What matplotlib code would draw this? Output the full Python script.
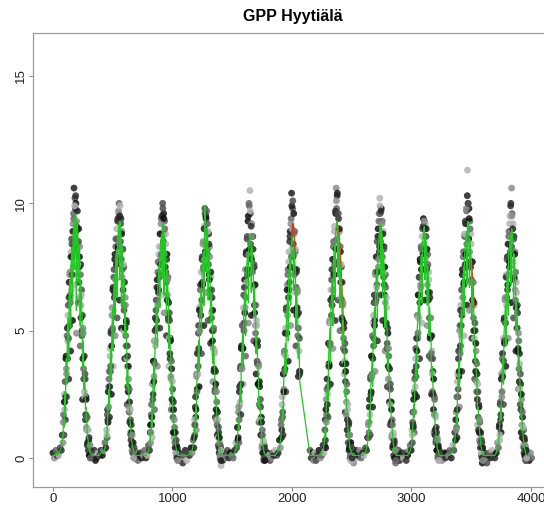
import numpy as np
import matplotlib
matplotlib.use("Agg")
import matplotlib.pyplot as plt

nan = np.nan

# sampling days within each year (same for all years)
doy = [0, 12, 24, 36, 48, 60, 70, 78,
       84, 88, 92, 96, 100, 104, 108, 112, 116, 120,
       124, 128, 132, 136, 140, 144, 148, 152, 156, 160,
       164, 168, 172, 176, 180, 184, 188, 192, 196, 200,
       204, 208, 212, 216, 220, 224, 228, 232, 236, 240,
       244, 248, 252, 256, 260, 264, 268, 272, 276, 280,
       284, 288, 292, 296, 300, 304, 308, 312, 316,
       326, 336, 346, 356]

# extra measurement days in the growing season
doy_mid = [86, 90, 94, 98, 102, 106, 110, 114, 118, 122,
           126, 130, 134, 138, 142, 146, 150, 154, 158, 162,
           166, 170, 174, 178, 182, 186, 190, 194, 198, 202,
           206, 210, 214, 218, 222, 226, 230, 234, 238, 242,
           246, 250, 254, 258, 262, 266, 270, 274, 278, 282,
           286, 290, 294, 298, 302, 306, 310, 314]

# modelled GPP (green line), one list per year
model_y01 = [0.1, 0.1, 0.2, 0.1, 0.2, 0.3, 0.4, 0.7,
             0.9, 1.4, 1.2, 2.1, 2.6, 1.8, 3.4, 3.9, 2.9, 4.6,
             5.1, 5.5, 3.8, 6.3, 6.8, 7.0, 5.1, 7.7, 8.0, 8.3,
             6.2, 8.7, 9.0, 9.2, 7.4, 9.4, 9.6, 9.5, 5.8, 9.3,
             9.1, 8.9, 6.9, 8.4, 8.1, 7.8, 5.2, 7.0, 6.5, 6.0,
             5.5, 3.6, 4.6, 4.1, 2.7, 3.2, 2.8, 1.9, 2.0, 1.6,
             1.3, 0.8, 0.8, 0.6, 0.5, 0.3, 0.3, 0.2, 0.2,
             0.1, 0.1, 0.1, 0.1]
model_y02 = [0.1, 0.1, 0.1, 0.2, 0.2, 0.2, 0.4, 0.6,
             0.8, 1.1, 1.5, 1.8, 2.3, 2.7, 2.0, 3.5, 3.9, 4.3,
             3.1, 5.1, 5.5, 5.9, 4.2, 6.6, 6.9, 7.2, 5.6, 7.8,
             8.0, 8.2, 6.3, 8.6, 8.8, 9.0, 9.2, 7.0, 9.3, 9.0,
             8.8, 6.0, 8.3, 8.0, 7.7, 5.9, 7.0, 6.6, 4.8, 5.8,
             5.3, 4.9, 4.4, 2.8, 3.5, 3.1, 2.6, 2.3, 1.8, 1.5,
             1.2, 1.0, 0.7, 0.6, 0.4, 0.4, 0.3, 0.2, 0.2,
             0.1, 0.1, 0.1, 0.1]
model_y03 = [0.1, 0.1, 0.1, 0.1, 0.1, 0.2, 0.3, 0.5,
             0.7, 1.0, 1.3, 1.7, 1.2, 2.4, 2.9, 3.3, 3.7, 2.6,
             4.5, 4.9, 5.3, 5.7, 6.1, 4.4, 6.8, 7.1, 7.4, 7.7,
             5.9, 8.2, 8.4, 8.6, 8.8, 7.1, 9.1, 9.2, 9.0, 6.4,
             8.7, 8.5, 8.2, 7.9, 5.6, 7.4, 7.0, 6.6, 6.1, 4.3,
             5.2, 4.7, 4.2, 3.8, 2.5, 3.0, 2.6, 2.2, 1.4, 1.5,
             1.2, 0.9, 0.7, 0.5, 0.4, 0.3, 0.3, 0.2, 0.1,
             0.1, 0.1, 0.1, 0.1]
model_y04 = [0.1, 0.1, 0.1, 0.1, 0.2, 0.2, 0.3, 0.5,
             0.7, 0.9, 1.2, 1.6, 2.0, 1.5, 2.8, 3.2, 3.7, 4.1,
             4.6, 3.4, 5.4, 5.8, 6.2, 6.6, 4.9, 7.2, 7.5, 7.8,
             8.1, 6.0, 8.5, 9.9, 8.8, 8.9, 7.3, 9.0, 8.8, 8.6,
             6.2, 8.2, 7.9, 7.6, 7.2, 5.3, 6.5, 6.1, 5.7, 5.2,
             3.7, 4.4, 4.0, 3.5, 3.1, 2.2, 2.4, 2.0, 1.7, 1.4,
             1.1, 0.9, 0.7, 0.5, 0.4, 0.3, 0.2, 0.2, 0.1,
             0.1, 0.1, 0.1, 0.1]
model_y05 = [0.1, 0.1, 0.1, 0.1, 0.1, 0.2, 0.3, 0.5,
             0.8, 1.1, 1.4, 1.1, 2.1, 2.5, 2.9, 2.2, 3.7, 4.1,
             4.5, 4.9, 3.6, 5.7, 6.0, 6.3, 6.6, 4.8, 7.2, 7.5,
             7.7, 7.9, 8.1, 6.1, 8.4, 8.6, 8.7, 8.8, 8.6, 6.5,
             8.3, 8.1, 7.8, 7.5, 5.5, 6.8, 6.4, 6.0, 5.6, 4.1,
             4.8, 4.4, 3.9, 3.5, 3.1, 2.0, 2.4, 2.0, 1.7, 1.4,
             1.1, 0.9, 0.7, 0.5, 0.4, 0.3, 0.2, 0.2, 0.1,
             0.1, 0.1, 0.1, 0.1]
model_y06 = [0.1, 0.1, 0.1, 0.1, 0.2, 0.3, 0.4, 0.6,
             0.9, 1.2, 1.6, 2.0, 1.5, 2.8, 3.2, 3.6, 4.1, 4.5,
             3.3, 5.3, 5.7, 6.1, 6.5, 4.6, 7.1, 7.4, 7.7, 7.9,
             6.0, 8.3, 8.5, 8.7, 8.6, 8.5, 6.6, 8.2, 7.9, 7.6,
             7.3, 5.2, 6.7, 6.3, 5.9, 5.4, 3.9, 4.5, 4.0, 3.0,
             nan, nan, nan, nan, nan, nan, nan, nan, nan, nan,
             nan, nan, nan, nan, nan, nan, nan, nan, nan,
             0.1, 0.1, 0.1, 0.1]
model_y07 = [0.1, 0.1, 0.1, 0.1, 0.1, 0.2, 0.3, 0.5,
             0.8, 1.1, 0.8, 1.8, 2.2, 2.6, 3.0, 2.3, 3.9, 4.3,
             4.7, 5.1, 3.7, 5.9, 6.3, 6.7, 7.0, 5.2, 7.6, 7.9,
             8.2, 8.4, 6.3, 8.8, 9.0, 9.2, 9.3, 9.1, 7.1, 8.7,
             8.4, 8.1, 5.9, 7.5, 7.1, 6.7, 6.3, 4.5, 5.4, 5.0,
             4.5, 4.1, 3.6, 2.4, 2.8, 2.4, 2.0, 1.7, 1.4, 1.1,
             0.9, 0.7, 0.5, 0.4, 0.3, 0.3, 0.2, 0.2, 0.1,
             0.1, 0.1, 0.1, 0.1]
model_y08 = [0.1, 0.1, 0.1, 0.1, 0.2, 0.2, 0.4, 0.6,
             0.9, 1.2, 1.5, 1.9, 1.4, 2.7, 3.1, 3.5, 3.9, 2.8,
             4.7, 5.1, 5.5, 5.9, 4.3, 6.6, 6.9, 7.2, 7.5, 5.5,
             8.0, 8.3, 8.5, 8.8, 9.0, 9.2, 7.2, 9.1, 8.9, 8.7,
             6.3, 8.2, 7.9, 7.6, 7.2, 5.1, 6.4, 6.0, 5.5, 5.1,
             3.5, 4.2, 3.8, 3.3, 2.9, 2.0, 2.3, 1.9, 1.6, 1.3,
             1.1, 0.8, 0.6, 0.5, 0.4, 0.3, 0.2, 0.2, 0.1,
             0.1, 0.1, 0.1, 0.1]
model_y09 = [0.1, 0.1, 0.1, 0.1, 0.1, 0.2, 0.3, 0.5,
             0.7, 1.0, 1.3, 1.7, 2.1, 1.6, 2.9, 3.3, 3.8, 4.2,
             3.1, 5.0, 5.4, 5.8, 6.2, 6.6, 4.7, 7.2, 7.5, 7.8,
             8.0, 6.1, 8.4, 8.6, 8.8, 9.0, 9.1, 7.0, 8.8, 8.6,
             8.4, 8.1, 6.0, 7.5, 7.1, 6.7, 4.8, 5.9, 5.4, 5.0,
             4.5, 3.2, 3.6, 3.2, 2.8, 2.4, 1.6, 1.8, 1.5, 1.2,
             1.0, 0.8, 0.6, 0.4, 0.3, 0.3, 0.2, 0.1, 0.1,
             0.1, 0.1, 0.1, 0.1]
model_y10 = [0.1, 0.1, 0.1, 0.1, 0.2, 0.3, 0.5, 0.7,
             1.0, 1.3, 1.7, 1.3, 2.5, 2.9, 3.3, 3.8, 2.7, 4.6,
             5.0, 5.4, 5.8, 4.1, 6.6, 6.9, 7.2, 7.5, 5.6, 8.0,
             8.3, 8.5, 8.7, 8.9, 6.8, 9.2, 9.3, 9.2, 9.0, 6.7,
             8.6, 8.3, 8.0, 7.7, 5.5, 7.0, 6.6, 6.2, 5.7, 5.3,
             3.8, 4.4, 4.0, 3.5, 3.1, 2.7, 1.9, 2.0, 1.7, 1.4,
             1.1, 0.9, 0.7, 0.5, 0.4, 0.3, 0.2, 0.2, 0.1,
             0.1, 0.1, 0.1, 0.1]
model_y11 = [0.1, 0.1, 0.1, 0.1, 0.1, 0.2, 0.4, 0.6,
             0.9, 1.2, 1.6, 2.0, 1.5, 2.8, 3.2, 3.6, 4.0, 2.9,
             4.8, 5.2, 5.6, 6.0, 4.4, 6.6, 6.9, 7.2, 7.5, 5.6,
             8.0, 8.2, 8.4, 8.6, 8.8, 6.8, 9.0, 8.9, 8.7, 8.5,
             6.2, 8.0, 7.7, 7.4, 7.0, 5.0, 6.2, 5.8, 5.3, 4.9,
             3.4, 4.0, 3.6, 3.1, 2.7, 2.3, 1.6, 1.7, 1.4, 1.1,
             0.9, 0.7, 0.5, 0.4, 0.3, 0.2, 0.2, 0.1, 0.1,
             0.1, 0.1, 0.1, 0.1]

# measured GPP (points) on the doy grid, one list per year
obs_y01 = [0.2, 0.0, 0.3, 0.1, 0.1, 0.4, 0.3, 0.9,
           0.6, 1.7, 0.9, 2.5, 2.2, 1.5, 3.9, 3.5, 2.4, 5.1,
           4.6, 6.0, 3.1, 6.9, 7.2, 6.4, 4.2, 8.1, 8.6, 7.9,
           5.4, 9.2, 9.6, 10.6, 6.8, 10.2, 9.8, 10.0, 4.9, 9.1,
           9.7, 8.4, 6.1, 9.0, 7.5, 8.3, 4.4, 7.6, 6.0, 6.6,
           5.0, 2.3, 5.1, 3.5, 3.1, 2.6, 3.3, 1.5, 2.4, 1.2,
           1.6, 0.5, 1.1, 0.3, 0.7, 0.1, 0.5, 0.0, 0.3,
           0.2, 0.0, 0.3, -0.1]
obs_y02 = [0.0, 0.2, 0.1, 0.3, 0.1, 0.3, 0.6, 0.4,
           1.1, 0.8, 1.9, 1.4, 2.8, 3.1, 1.6, 4.0, 3.4, 4.9,
           2.5, 5.6, 5.0, 6.6, 3.6, 7.1, 6.3, 7.8, 4.8, 8.3,
           8.6, 7.6, 5.5, 9.3, 8.3, 9.7, 10.0, 6.2, 9.9, 8.5,
           9.4, 5.1, 8.9, 7.4, 8.2, 5.0, 7.5, 6.0, 3.9, 6.3,
           4.8, 5.4, 3.9, 2.1, 4.0, 2.6, 3.1, 1.8, 2.2, 1.0,
           1.5, 0.7, 1.0, 0.3, 0.6, 0.2, 0.5, 0.0, 0.3,
           0.0, 0.2, -0.1, 0.1]
obs_y03 = [0.2, 0.0, 0.1, 0.3, 0.0, 0.1, 0.5, 0.3,
           1.0, 0.6, 1.7, 1.3, 0.8, 2.9, 2.5, 3.8, 3.2, 1.9,
           5.0, 4.4, 5.8, 5.1, 6.7, 3.6, 7.3, 6.5, 8.0, 7.2,
           5.1, 8.8, 7.9, 9.4, 8.3, 6.4, 10.0, 8.8, 9.6, 5.7,
           9.3, 8.0, 8.8, 7.3, 4.8, 8.0, 6.4, 7.1, 5.5, 3.6,
           5.7, 4.1, 4.7, 3.2, 1.9, 3.5, 2.1, 2.7, 1.0, 1.9,
           0.8, 1.2, 0.4, 0.7, 0.2, 0.5, 0.1, 0.3, -0.1,
           0.2, 0.0, 0.1, -0.2]
obs_y04 = [0.1, 0.3, -0.1, 0.2, 0.1, 0.4, 0.2, 0.7,
           0.4, 1.3, 0.9, 2.0, 1.6, 1.1, 3.3, 2.7, 4.2, 3.6,
           5.2, 2.8, 5.9, 5.2, 6.8, 6.0, 4.1, 7.8, 6.9, 8.4,
           7.5, 5.2, 9.1, 9.8, 8.1, 9.5, 6.5, 9.7, 8.2, 9.2,
           5.4, 8.8, 7.2, 8.3, 6.6, 4.5, 7.1, 5.5, 6.3, 4.6,
           3.0, 5.0, 3.4, 4.1, 2.6, 1.6, 2.9, 1.5, 2.2, 0.9,
           1.5, 0.5, 1.0, 0.2, 0.6, 0.0, 0.4, -0.3, 0.2,
           -0.1, 0.2, 0.0, 0.1]
obs_y05 = [0.3, 0.0, 0.2, 0.1, 0.0, 0.3, 0.6, 0.4,
           1.2, 0.7, 1.8, 0.6, 2.6, 2.1, 3.5, 1.7, 4.3, 3.6,
           5.2, 4.3, 2.9, 6.4, 5.3, 7.0, 5.9, 4.0, 8.0, 6.8,
           8.6, 7.2, 9.3, 5.3, 10.0, 8.1, 10.5, 9.6, 7.9, 5.6,
           9.2, 7.4, 8.7, 6.7, 4.6, 7.5, 5.7, 6.8, 4.9, 3.3,
           5.4, 3.8, 4.6, 2.9, 3.7, 1.4, 3.0, 1.5, 2.3, 0.9,
           1.6, 0.4, 1.1, 0.2, 0.7, -0.1, 0.5, 0.0, 0.3,
           0.0, 0.2, 0.1, -0.1]
obs_y06 = [0.0, 0.2, 0.1, 0.3, 0.1, 0.2, 0.7, 0.4,
           1.3, 0.8, 2.1, 1.6, 0.9, 3.3, 2.7, 4.2, 3.5, 5.1,
           2.6, 5.9, 4.9, 6.8, 7.2, 3.8, 7.7, 6.6, 8.5, 8.9,
           5.2, 9.4, 10.4, 9.0, 9.8, 7.9, 5.8, 8.8, 7.2, 8.1,
           6.5, 4.4, 7.3, 5.6, 6.5, 4.8, 3.2, 5.1, 3.4, 3.3,
           nan, nan, nan, nan, nan, nan, nan, nan, nan, nan,
           nan, nan, nan, nan, nan, nan, nan, nan, nan,
           0.3, 0.0, 0.2, -0.1]
obs_y07 = [0.2, -0.1, 0.1, 0.3, 0.0, 0.1, 0.5, 0.2,
           0.5, 1.5, 0.4, 2.3, 1.7, 3.1, 2.5, 1.6, 4.5, 3.7,
           5.3, 4.4, 2.9, 6.6, 5.6, 7.4, 6.3, 4.3, 8.3, 7.2,
           8.9, 7.6, 5.4, 9.6, 10.6, 9.8, 10.3, 8.4, 6.2, 9.4,
           7.6, 8.9, 5.0, 8.1, 6.3, 7.5, 5.5, 3.7, 6.0, 4.3,
           5.1, 3.3, 4.2, 1.8, 3.4, 1.7, 2.6, 1.1, 1.9, 0.6,
           1.3, 0.3, 0.9, 0.0, 0.6, -0.1, 0.4, 0.0, 0.3,
           -0.2, 0.1, 0.3, 0.0]
obs_y08 = [0.1, 0.3, 0.0, 0.2, 0.1, 0.4, 0.3, 0.8,
           1.3, 0.8, 2.0, 1.4, 0.9, 3.2, 2.6, 4.0, 3.3, 2.0,
           5.3, 4.4, 6.1, 5.2, 3.4, 7.3, 6.2, 7.9, 6.8, 4.6,
           8.7, 7.5, 9.3, 8.1, 10.2, 9.6, 6.4, 9.8, 8.2, 9.3,
           5.4, 8.9, 7.1, 8.3, 6.4, 4.2, 7.2, 5.2, 6.3, 4.3,
           2.8, 4.9, 3.1, 4.0, 2.2, 1.3, 2.9, 1.3, 2.2, 0.8,
           1.5, 0.4, 1.0, 0.1, 0.7, 0.0, 0.4, -0.2, 0.2,
           0.0, 0.3, -0.1, 0.1]
obs_y09 = [0.2, 0.0, 0.2, -0.1, 0.1, 0.3, 0.5, 0.3,
           1.1, 0.6, 1.8, 1.2, 2.6, 1.0, 3.4, 2.8, 4.3, 3.6,
           2.4, 5.6, 4.7, 6.4, 5.5, 7.1, 3.9, 7.8, 6.8, 8.3,
           7.4, 5.3, 9.0, 8.0, 9.4, 8.4, 9.3, 6.2, 9.2, 7.9,
           9.0, 7.5, 5.2, 8.0, 6.5, 7.3, 4.0, 6.5, 4.7, 5.5,
           3.9, 2.5, 4.2, 2.6, 3.4, 1.9, 1.0, 2.4, 0.9, 1.7,
           0.6, 1.2, 0.3, 0.8, 0.0, 0.5, -0.1, 0.3, 0.0,
           0.2, -0.1, 0.1, 0.2]
obs_y10 = [0.0, 0.2, 0.1, 0.3, 0.0, 0.5, 0.3, 1.0,
           0.7, 1.8, 1.2, 0.8, 3.0, 2.4, 3.9, 3.2, 2.0, 5.2,
           4.4, 6.0, 5.2, 3.4, 7.2, 6.3, 7.9, 6.8, 4.8, 8.7,
           7.6, 9.2, 8.1, 9.7, 6.0, 11.3, 10.0, 8.6, 9.8, 5.8,
           9.3, 7.7, 8.8, 7.0, 4.7, 7.7, 6.0, 6.9, 5.0, 6.0,
           3.1, 5.0, 3.4, 4.2, 2.6, 3.3, 1.3, 2.6, 1.1, 2.0,
           0.7, 1.4, 0.4, 0.9, 0.1, 0.6, -0.2, 0.4, 0.0,
           0.2, 0.0, -0.2, 0.1]
obs_y11 = [0.2, 0.0, 0.3, 0.1, 0.0, 0.2, 0.6, 0.4,
           1.2, 0.7, 2.1, 1.5, 1.0, 3.3, 2.6, 4.1, 3.4, 2.1,
           5.4, 4.5, 6.2, 5.3, 3.6, 7.2, 6.3, 7.9, 6.8, 4.7,
           8.7, 7.5, 9.2, 8.0, 9.9, 6.1, 10.6, 9.6, 8.1, 9.2,
           5.5, 8.7, 7.0, 8.1, 6.2, 4.2, 6.9, 5.1, 6.0, 4.2,
           2.7, 4.6, 3.0, 3.7, 2.1, 2.9, 1.0, 2.3, 0.8, 1.6,
           0.5, 1.1, 0.2, 0.7, 0.0, 0.4, -0.1, 0.3, 0.0,
           0.1, -0.1, 0.2, 0.0]

# measured GPP on the doy_mid days, one list per year
mid_y01 = [1.4, 0.9, 2.2, 1.9, 3.0, 2.4, 4.0, 3.3, 4.8, 3.9,
           5.6, 4.7, 6.3, 5.2, 7.3, 6.1, 7.9, 6.6, 8.4, 7.2,
           8.9, 7.5, 9.4, 8.3, 9.9, 8.6, 10.3, 8.9, 9.3, 8.1,
           9.0, 7.6, 8.5, 6.9, 7.9, 6.3, 7.2, 5.5, 6.4, 4.8,
           5.6, 3.9, 4.9, 3.1, 4.0, 2.4, 3.1, 1.7, 2.3, 1.1,
           1.6, 0.6, 1.1, 0.3, 0.8, 0.1, 0.5, 0.0]
mid_y02 = [0.9, 1.7, 1.5, 2.6, 2.0, 3.4, 2.8, 4.3, 3.6, 5.0,
           4.4, 5.9, 5.1, 6.7, 5.8, 7.4, 6.5, 8.0, 7.0, 8.6,
           7.6, 9.0, 7.9, 9.4, 8.2, 9.6, 8.4, 9.5, 8.1, 9.2,
           7.8, 8.8, 7.1, 8.2, 6.6, 7.6, 5.8, 6.9, 5.1, 6.0,
           4.4, 5.3, 3.6, 4.4, 2.8, 3.6, 2.0, 2.7, 1.4, 1.9,
           0.9, 1.3, 0.5, 0.9, 0.2, 0.6, 0.0, 0.4]
mid_y03 = [1.3, 1.0, 2.1, 1.6, 2.9, 2.3, 3.8, 3.0, 4.6, 3.7,
           5.5, 4.6, 6.2, 5.4, 7.0, 6.0, 7.7, 6.6, 8.3, 7.1,
           8.8, 7.6, 9.2, 8.0, 9.5, 8.3, 9.8, 8.5, 9.4, 8.0,
           9.0, 7.5, 8.4, 6.9, 7.8, 6.2, 7.0, 5.4, 6.1, 4.7,
           5.4, 3.9, 4.6, 3.1, 3.8, 2.3, 3.0, 1.6, 2.2, 1.0,
           1.5, 0.6, 1.0, 0.2, 0.7, 0.0, 0.4, -0.1]
mid_y04 = [0.8, 1.5, 1.3, 2.4, 1.9, 3.2, 2.6, 4.1, 3.3, 4.9,
           4.3, 5.8, 5.0, 6.6, 5.6, 7.3, 6.2, 7.9, 6.8, 8.5,
           7.4, 9.0, 7.8, 9.6, 8.1, 9.4, 8.3, 9.2, 8.0, 8.9,
           7.6, 8.4, 7.0, 7.9, 6.4, 7.3, 5.7, 6.6, 5.0, 5.8,
           4.3, 5.1, 3.5, 4.2, 2.7, 3.4, 1.9, 2.6, 1.3, 1.8,
           0.8, 1.2, 0.4, 0.8, 0.1, 0.5, -0.1, 0.3]
mid_y05 = [1.2, 0.8, 2.0, 1.5, 2.8, 2.2, 3.6, 2.9, 4.4, 3.5,
           5.2, 4.3, 5.9, 5.0, 6.7, 5.7, 7.4, 6.3, 8.1, 6.9,
           8.7, 7.4, 9.5, 8.0, 9.9, 8.2, 9.7, 8.4, 9.1, 7.8,
           8.7, 7.3, 8.2, 6.7, 7.6, 6.0, 6.8, 5.2, 6.0, 4.5,
           5.2, 3.7, 4.4, 2.9, 3.6, 2.1, 2.8, 1.5, 2.0, 0.9,
           1.4, 0.5, 0.9, 0.2, 0.6, 0.0, 0.4, -0.1]
mid_y06 = [1.5, 1.1, 2.4, 1.8, 3.3, 2.6, 4.1, 3.4, 4.9, 4.0,
           5.8, 4.9, 6.6, 5.6, 7.4, 6.3, 8.1, 6.9, 8.7, 7.5,
           9.2, 7.9, 9.9, 8.3, 10.1, 8.4, 9.6, 8.0, 8.9, 7.4,
           8.2, 6.7, 7.4, 5.9, 6.6, 5.1, 5.7, 4.2, 4.7, 3.4,
           nan, nan, nan, nan, nan, nan, nan, nan, nan, nan,
           nan, nan, nan, nan, nan, nan, nan, nan]
mid_y07 = [1.1, 0.7, 1.9, 1.4, 2.7, 2.1, 3.6, 2.8, 4.5, 3.6,
           5.4, 4.5, 6.2, 5.3, 7.0, 6.0, 7.8, 6.6, 8.5, 7.2,
           9.1, 7.7, 9.7, 8.2, 10.1, 8.6, 10.4, 8.8, 9.6, 8.2,
           9.0, 7.6, 8.3, 6.9, 7.6, 6.2, 6.9, 5.4, 6.1, 4.7,
           5.3, 3.8, 4.5, 3.0, 3.7, 2.2, 2.9, 1.5, 2.1, 0.9,
           1.4, 0.4, 0.9, 0.1, 0.6, -0.1, 0.4, 0.0]
mid_y08 = [1.4, 1.0, 2.3, 1.7, 3.1, 2.5, 4.0, 3.2, 4.8, 3.9,
           5.6, 4.7, 6.4, 5.4, 7.2, 6.1, 7.9, 6.7, 8.5, 7.3,
           9.0, 7.8, 9.6, 8.3, 9.9, 8.5, 9.7, 8.3, 9.2, 7.9,
           8.8, 7.3, 8.2, 6.8, 7.5, 6.1, 6.7, 5.3, 5.9, 4.5,
           5.1, 3.6, 4.3, 2.8, 3.5, 2.1, 2.7, 1.4, 1.9, 0.9,
           1.3, 0.5, 0.9, 0.1, 0.6, 0.0, 0.3, -0.1]
mid_y09 = [0.9, 1.4, 1.3, 2.3, 1.8, 3.1, 2.5, 3.9, 3.2, 4.7,
           4.2, 5.6, 4.9, 6.4, 5.5, 7.1, 6.1, 7.7, 6.7, 8.2,
           7.4, 8.7, 7.8, 9.1, 8.0, 9.3, 8.2, 9.0, 7.8, 8.7,
           7.4, 8.2, 6.8, 7.6, 6.2, 7.0, 5.5, 6.3, 4.8, 5.5,
           4.1, 4.8, 3.3, 3.9, 2.5, 3.1, 1.7, 2.3, 1.1, 1.6,
           0.7, 1.0, 0.3, 0.7, 0.1, 0.4, -0.1, 0.2]
mid_y10 = [1.5, 1.1, 2.4, 1.9, 3.3, 2.7, 4.2, 3.4, 5.0, 4.1,
           5.8, 4.8, 6.6, 5.6, 7.4, 6.3, 8.1, 6.9, 8.8, 7.5,
           9.3, 8.0, 9.8, 8.4, 10.3, 8.7, 10.0, 8.6, 9.4, 8.1,
           9.0, 7.5, 8.4, 6.9, 7.7, 6.2, 6.9, 5.5, 6.1, 4.7,
           5.3, 3.8, 4.5, 3.0, 3.7, 2.3, 2.9, 1.6, 2.1, 1.0,
           1.5, 0.6, 1.0, 0.2, 0.7, 0.0, 0.4, -0.1]
mid_y11 = [1.3, 0.9, 2.2, 1.7, 3.1, 2.4, 3.9, 3.2, 4.7, 3.8,
           5.5, 4.6, 6.3, 5.3, 7.1, 6.0, 7.8, 6.6, 8.4, 7.2,
           8.9, 7.7, 9.5, 8.1, 10.0, 8.3, 9.5, 8.1, 9.0, 7.7,
           8.6, 7.1, 8.0, 6.6, 7.3, 5.9, 6.5, 5.1, 5.7, 4.3,
           4.9, 3.5, 4.1, 2.7, 3.3, 1.9, 2.5, 1.3, 1.8, 0.8,
           1.2, 0.4, 0.8, 0.1, 0.5, -0.1, 0.3, 0.0]

# second model run (red), only where it separates from the green one
red_day = [148, 160, 172, nan,
           1997, 2005, 2013, 2021, 2029, nan,
           2386, 2394, 2402, 2410, 2418, 2426, 2434, nan,
           2735, 2743, 2751, 2759, nan,
           3501, 3513, 3525]
red_gpp = [6.9, 7.6, 8.4, nan,
           8.7, 9.2, 9.1, 8.6, 7.9, nan,
           9.1, 8.7, 8.3, 7.5, 6.7, 5.8, 4.9, nan,
           8.9, 9.1, 8.8, 8.0, nan,
           7.8, 6.9, 5.9]

model_years = [model_y01, model_y02, model_y03, model_y04, model_y05, model_y06,
               model_y07, model_y08, model_y09, model_y10, model_y11]
obs_years = [obs_y01, obs_y02, obs_y03, obs_y04, obs_y05, obs_y06,
             obs_y07, obs_y08, obs_y09, obs_y10, obs_y11]
mid_years = [mid_y01, mid_y02, mid_y03, mid_y04, mid_y05, mid_y06,
             mid_y07, mid_y08, mid_y09, mid_y10, mid_y11]

day, model, obs = [], [], []
pday, pobs = [], []
for k in range(len(model_years)):
    day += [365 * k + d for d in doy]
    model += model_years[k]
    pday += [365 * k + d for d in doy] + [365 * k + d for d in doy_mid]
    pobs += obs_years[k] + mid_years[k]
day = np.array(day, dtype=float)
model = np.array(model)
pday = np.array(pday, dtype=float)
pobs = np.array(pobs)

plt.rcParams['font.family'] = ['Liberation Sans', 'DejaVu Sans']

fig = plt.figure(figsize=(5.44, 5.05), dpi=100)
ax = fig.add_axes([33 / 544, 18 / 505, 519 / 544, 454 / 505])

shades = ['#111111', '#4a4a4a', '#1e1e1e', '#8c8c8c', '#2c2c2c', '#b4b4b4', '#666666']
cols = [shades[(i * 3) % len(shades)] for i in range(len(pday))]
ax.scatter(pday, pobs, s=24, c=cols, edgecolors='none', alpha=0.85, zorder=2)

ax.plot(red_day, red_gpp, color='#d23c14', lw=1.0, zorder=3)
ok = np.isfinite(model)
ax.plot(day[ok], model[ok], color='#22c822', lw=0.9, zorder=4)

ax.set_xlim(-167, 4176)
ax.set_ylim(-1.14, 16.69)
ax.set_xticks([0, 1000, 2000, 3000, 4000])
ax.set_yticks([0, 5, 10, 15])
ax.set_yticklabels(['0', '5', '10', '15'], rotation=90, va='center')
ax.tick_params(direction='out', length=3, width=0.8, color='#888888',
               labelsize=9.5, labelcolor='#222222')
ax.tick_params(axis='x', pad=1.5)
ax.tick_params(axis='y', pad=1)
for s in ax.spines.values():
    s.set_color('#9a9a9a')
    s.set_linewidth(0.9)

ax.set_title('GPP Hyytiälä', fontsize=11.5, fontweight='bold', pad=9)

fig.savefig('out.png', dpi=100)
